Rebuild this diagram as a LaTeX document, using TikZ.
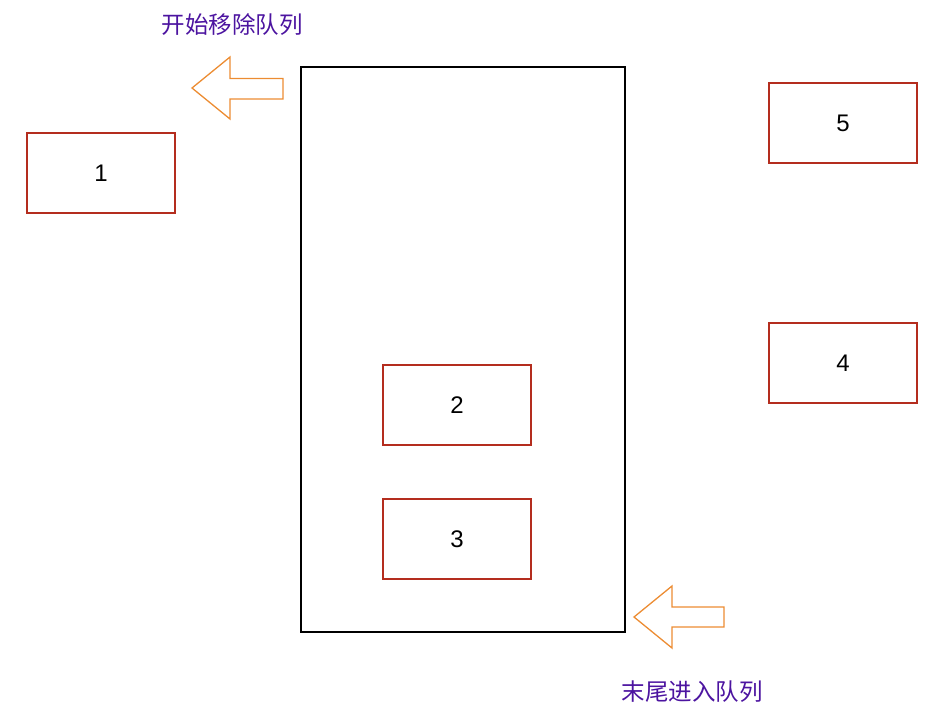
\documentclass[tikz,border=0pt]{standalone}
\usepackage{fontspec}
\setmainfont{Liberation Sans}
\newfontfamily\cjk{Noto Sans CJK SC}
\definecolor{boxred}{RGB}{180,45,30}
\definecolor{arrorange}{RGB}{236,140,50}
\definecolor{txtpurple}{RGB}{76,20,160}
\begin{document}
\begin{tikzpicture}[x=1pt,y=-1pt,
  itembox/.style={draw=boxred,line width=1.3pt,minimum width=148pt,minimum height=80pt,inner sep=0pt,font=\fontsize{24}{24}\selectfont},
  bigarrow/.style={draw=arrorange,line width=1.3pt,line join=miter},
  caption/.style={text=txtpurple,font=\cjk\fontsize{23.5}{23.5}\selectfont,inner sep=0pt}]
\useasboundingbox (0,0) rectangle (942,718);
\node[draw=black,line width=1.3pt,minimum width=324pt,minimum height=565pt,inner sep=0pt] (queue) at (463,349.5) {};
\node[itembox] (b1) at (101,173) {\raisebox{-1pt}{1}};
\node[itembox] (b2) at (457,405) {\raisebox{-1pt}{2}};
\node[itembox] (b3) at (457,539) {\raisebox{-1pt}{3}};
\node[itembox] (b4) at (843,363) {\raisebox{-1pt}{4}};
\node[itembox] (b5) at (843,123) {\raisebox{-1pt}{5}};
\draw[bigarrow] (192,88) -- (230,57) -- (230,78.5) -- (283,78.5) -- (283,99) -- (230,99) -- (230,119) -- cycle;
\draw[bigarrow] (634,617) -- (672,586) -- (672,607) -- (724,607) -- (724,627) -- (672,627) -- (672,648) -- cycle;
\node[caption] (t1) at (232,25) {开始移除队列};
\node[caption] (t2) at (692,692) {末尾进入队列};
\end{tikzpicture}
\end{document}
